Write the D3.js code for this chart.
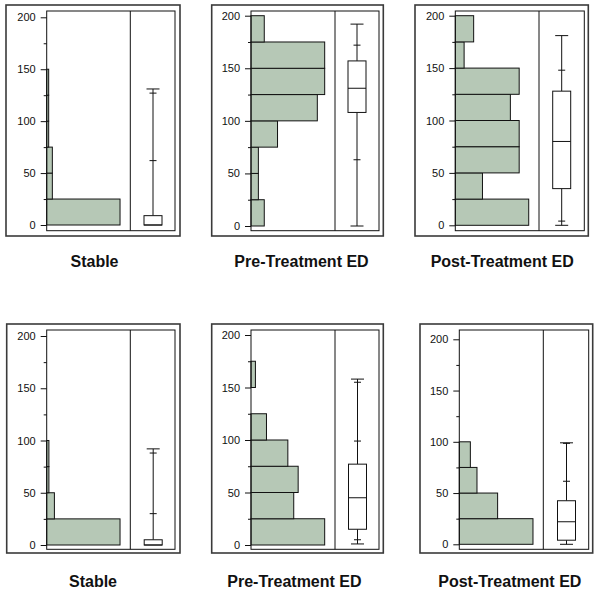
<!DOCTYPE html>
<html>
<head>
<meta charset="utf-8">
<script src="https://cdn.jsdelivr.net/npm/d3@7"></script>
<style>
  html, body { margin: 0; padding: 0; background: #fff; }
  svg { display: block; }
  text { font-family: "Liberation Sans", Arial, sans-serif; }
</style>
</head>
<body>
<svg id="chart" width="601" height="590"></svg>
<script>
// ---------------- DATA ----------------
const panelTitles = ["Stable", "Pre-Treatment ED", "Post-Treatment ED",
                     "Stable", "Pre-Treatment ED", "Post-Treatment ED"];
const binEdges = [0, 25, 50, 75, 100, 125, 150, 175, 200];
const yTicks = [0, 50, 100, 150, 200];
const yMinorTicks = [25, 75, 125, 175];

// relative frequency of each 25-unit bin (largest bin = 1)
const histStableTop = [1.0, 0.077, 0.077, 0.027, 0.027, 0.027, 0, 0];
const histPreTop    = [0.18, 0.10, 0.10, 0.36, 0.90, 1.0, 1.0, 0.18];
const histPostTop   = [1.0, 0.37, 0.87, 0.87, 0.75, 0.87, 0.12, 0.25];
const histStableBot = [1.0, 0.105, 0.03, 0.03, 0, 0, 0, 0];
const histPreBot    = [1.0, 0.58, 0.64, 0.50, 0.21, 0, 0.06, 0];
const histPostBot   = [1.0, 0.52, 0.24, 0.15, 0, 0, 0, 0];

// box plot summaries per panel
const boxMin    = [0,   0,   0,   0,  1,   0];
const boxQ1     = [0,   108, 35,  0,  15,  4];
const boxMedian = [0,   131, 80,  0,  45,  22];
const boxQ3     = [9,   157, 128, 5,  77,  42.5];
const boxMax    = [131, 192, 181, 92, 158, 99];
const whiskerTicks = [[62, 127], [63, 172], [4, 148], [30, 88], [5, 99, 155], [61.5, 98.5]];

// ---------------- LAYOUT ----------------
const histograms = [histStableTop, histPreTop, histPostTop, histStableBot, histPreBot, histPostBot];
const layout = [
  {ox0: 6,   oy0: 5,   ox1: 180,   oy1: 236, ix0: 46.7,  iy0: 11,  ix1: 175,   iy1: 230.7, div: 130.3, y0: 225,   y200: 17.3, bc: 153,   tx: 94.5,  ty: 267},
  {ox0: 211.7, oy0: 5, ox1: 383.3, oy1: 236, ix0: 251,   iy0: 11,  ix1: 379,   iy1: 230.7, div: 335,   y0: 226,   y200: 15.7, bc: 357,   tx: 301.5, ty: 267},
  {ox0: 415, oy0: 5,   ox1: 588.3, oy1: 236, ix0: 455.3, iy0: 11,  ix1: 584.3, iy1: 230.7, div: 539,   y0: 225.3, y200: 15.7, bc: 561.7, tx: 502.2, ty: 267},
  {ox0: 6.7, oy0: 324, ox1: 180,   oy1: 553, ix0: 46.7,  iy0: 330, ix1: 175,   iy1: 549.3, div: 130.3, y0: 545,   y200: 336,  bc: 153.2, tx: 93,    ty: 587},
  {ox0: 211.7, oy0: 324, ox1: 383.3, oy1: 553, ix0: 251, iy0: 330, ix1: 379,   iy1: 549.3, div: 335,   y0: 545,   y200: 335,  bc: 357.5, tx: 294.4, ty: 587},
  {ox0: 420, oy0: 324, ox1: 592.7, oy1: 553, ix0: 459.3, iy0: 330, ix1: 588.7, iy1: 549.3, div: 543.3, y0: 544.3, y200: 339.3, bc: 566.5, tx: 509.8, ty: 587}
];

const svg = d3.select("#chart");
const histFill = "#b6c8b6";

layout.forEach((L, i) => {
  const g = svg.append("g");
  const y = d3.scaleLinear().domain([0, 200]).range([L.y0, L.y200]);
  const x = d3.scaleLinear().domain([0, 1.14]).range([L.ix0, L.div]);

  // outer frame
  g.append("rect")
    .attr("x", L.ox0).attr("y", L.oy0)
    .attr("width", L.ox1 - L.ox0).attr("height", L.oy1 - L.oy0)
    .attr("fill", "none").attr("stroke", "#3a3a3a").attr("stroke-width", 1.6);

  // histogram bars
  const bins = histograms[i].map((v, k) => ({v, lo: binEdges[k], hi: binEdges[k + 1]}))
    .filter(d => d.v > 0);
  g.selectAll("rect.bar").data(bins).enter().append("rect")
    .attr("class", "bar")
    .attr("x", x(0))
    .attr("y", d => y(d.hi))
    .attr("width", d => x(d.v) - x(0))
    .attr("height", d => y(d.lo) - y(d.hi))
    .attr("fill", histFill)
    .attr("stroke", "#111")
    .attr("stroke-width", 1);

  // inner frame
  g.append("rect")
    .attr("x", L.ix0).attr("y", L.iy0)
    .attr("width", L.ix1 - L.ix0).attr("height", L.iy1 - L.iy0)
    .attr("fill", "none").attr("stroke", "#111").attr("stroke-width", 1);
  g.append("line")
    .attr("x1", L.div).attr("x2", L.div).attr("y1", L.iy0).attr("y2", L.iy1)
    .attr("stroke", "#111").attr("stroke-width", 1);

  // y axis (major + minor)
  const ax = g.append("g").attr("transform", `translate(${L.ix0},0)`)
    .call(d3.axisLeft(y).tickValues(yTicks).tickSize(6).tickPadding(5).tickFormat(d3.format("d")));
  ax.select(".domain").remove();
  ax.selectAll("line").attr("stroke", "#111");
  ax.selectAll("text").attr("font-size", 11).attr("fill", "#111")
    .style("font-family", '"Liberation Sans", Arial, sans-serif');
  const axm = g.append("g").attr("transform", `translate(${L.ix0},0)`)
    .call(d3.axisLeft(y).tickValues(yMinorTicks).tickSize(3).tickFormat(""));
  axm.select(".domain").remove();
  axm.selectAll("line").attr("stroke", "#111");

  // box plot
  const bw = 18, capW = 13, tickW = 7, cx = L.bc;
  const line = (x1, y1, x2, y2) => g.append("line")
    .attr("x1", x1).attr("y1", y1).attr("x2", x2).attr("y2", y2)
    .attr("stroke", "#111").attr("stroke-width", 1);
  // whiskers
  line(cx, y(boxQ3[i]), cx, y(boxMax[i]));
  if (boxQ1[i] > boxMin[i]) line(cx, y(boxQ1[i]), cx, y(boxMin[i]));
  // caps
  line(cx - capW / 2, y(boxMax[i]), cx + capW / 2, y(boxMax[i]));
  if (boxQ1[i] > boxMin[i]) line(cx - capW / 2, y(boxMin[i]), cx + capW / 2, y(boxMin[i]));
  // percentile ticks
  whiskerTicks[i].forEach(t => line(cx - tickW / 2, y(t), cx + tickW / 2, y(t)));
  // box
  g.append("rect")
    .attr("x", cx - bw / 2).attr("y", y(boxQ3[i]))
    .attr("width", bw).attr("height", y(boxQ1[i]) - y(boxQ3[i]))
    .attr("fill", "#fff").attr("stroke", "#111").attr("stroke-width", 1);
  line(cx - bw / 2, y(boxMedian[i]), cx + bw / 2, y(boxMedian[i]));

  // title
  svg.append("text")
    .attr("x", L.tx).attr("y", L.ty)
    .attr("text-anchor", "middle")
    .attr("font-size", 16).attr("font-weight", "bold").attr("fill", "#111")
    .text(panelTitles[i]);
});
</script>
</body>
</html>
